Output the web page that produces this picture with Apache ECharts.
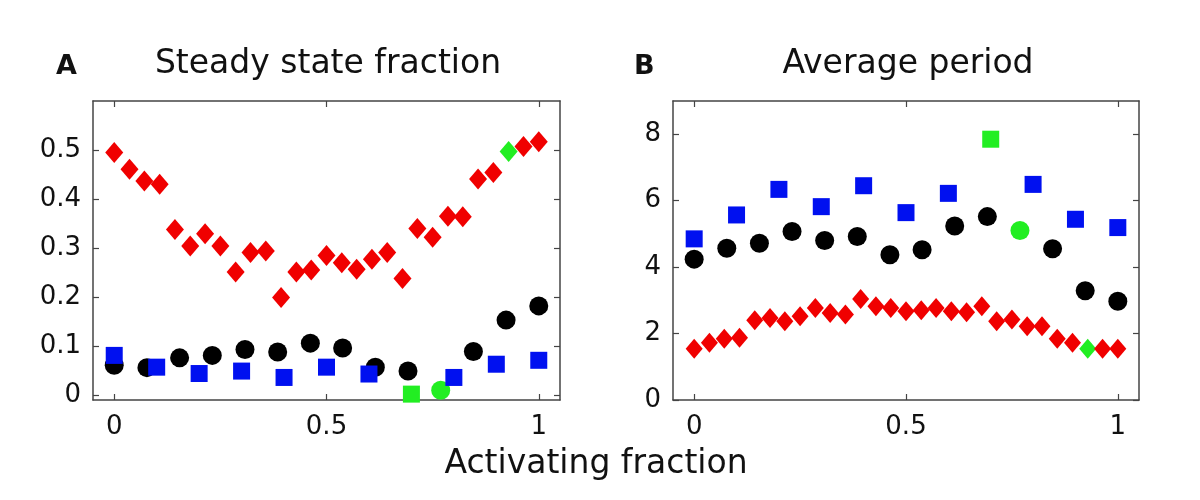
<!DOCTYPE html>
<html>
<head>
<meta charset="utf-8">
<script src="https://cdn.jsdelivr.net/npm/echarts@6/dist/echarts.min.js"></script>
<style>html,body{margin:0;padding:0;background:#fff}#c{width:1200px;height:500px}</style>
</head>
<body>
<div id="c"></div>
<script>
// ---- data ----
const xTicks = [0, 0.5, 1];
const yTicksA = [0, 0.1, 0.2, 0.3, 0.4, 0.5];
const yTicksB = [0, 2, 4, 6, 8];

const xRed = [0, 0.036, 0.071, 0.107, 0.143, 0.179, 0.214, 0.25, 0.286, 0.321, 0.357, 0.393, 0.429, 0.464, 0.5,
              0.536, 0.571, 0.607, 0.643, 0.679, 0.714, 0.75, 0.786, 0.821, 0.857, 0.893, 0.929, 0.964, 1];
const xBlack = [0, 0.077, 0.154, 0.231, 0.308, 0.385, 0.462, 0.538, 0.615, 0.692, 0.769, 0.846, 0.923, 1];
const xBlue = [0, 0.1, 0.2, 0.3, 0.4, 0.5, 0.6, 0.7, 0.8, 0.9, 1];

// Panel A: steady state fraction
const redA = [0.495, 0.461, 0.437, 0.430, 0.338, 0.304, 0.329, 0.304, 0.251, 0.291, 0.294, 0.199, 0.251, 0.255, 0.285,
              0.270, 0.257, 0.277, 0.291, 0.238, 0.340, 0.322, 0.365, 0.364, 0.441, 0.454, 0.497, 0.507, 0.517];
const blackA = [0.061, 0.056, 0.076, 0.081, 0.093, 0.088, 0.106, 0.096, 0.057, 0.049, 0.010, 0.089, 0.153, 0.182];
const blueA = [0.081, 0.057, 0.044, 0.049, 0.036, 0.057, 0.043, 0.002, 0.036, 0.063, 0.071];

// Panel B: average period
const redB = [1.54, 1.72, 1.84, 1.87, 2.40, 2.47, 2.37, 2.52, 2.77, 2.62, 2.57, 3.04, 2.82, 2.77, 2.67,
              2.70, 2.77, 2.67, 2.64, 2.82, 2.37, 2.42, 2.22, 2.22, 1.84, 1.72, 1.54, 1.54, 1.54];
const blackB = [4.24, 4.57, 4.72, 5.07, 4.80, 4.92, 4.37, 4.52, 5.24, 5.52, 5.10, 4.55, 3.29, 2.97];
const blueB = [4.85, 5.57, 6.34, 5.82, 6.45, 5.64, 6.22, 7.85, 6.49, 5.44, 5.19];

// index of the point drawn in green within each series
const greenRed = 26, greenBlack = 10, greenBlue = 7;

// ---- style ----
const FONT = 'DejaVu Sans';
const RED = '#f00000', BLACK = '#000000', BLUE = '#0010f0', GREEN = '#22ee22';
const AXC = '#444';

function pts(xs, ys, gi) {
  return xs.map((x, i) => i === gi ? {value: [x, ys[i]], itemStyle: {color: GREEN}} : [x, ys[i]]);
}

function axesFor(gridIndex, yMin, yMax, yTicks, yFmt) {
  const tickCommon = {show: true, inside: true, length: 6, lineStyle: {color: AXC, width: 1.2}};
  const lineCommon = {show: true, onZero: false, lineStyle: {color: AXC, width: 1.5}};
  const x = [
    {type: 'value', gridIndex, min: -0.05, max: 1.05, position: 'bottom',
     axisLine: lineCommon, splitLine: {show: false},
     axisTick: Object.assign({customValues: xTicks}, tickCommon),
     axisLabel: {customValues: xTicks, fontFamily: FONT, fontSize: 26, color: '#111', margin: 14,
                 formatter: v => String(v)}},
    {type: 'value', gridIndex, min: -0.05, max: 1.05, position: 'top',
     axisLine: lineCommon, splitLine: {show: false},
     axisTick: Object.assign({customValues: xTicks}, tickCommon),
     axisLabel: {show: false}}
  ];
  const y = [
    {type: 'value', gridIndex, min: yMin, max: yMax, position: 'left',
     axisLine: lineCommon, splitLine: {show: false},
     axisTick: Object.assign({customValues: yTicks}, tickCommon),
     axisLabel: {customValues: yTicks, fontFamily: FONT, fontSize: 26, color: '#111', margin: 12,
                 formatter: yFmt}},
    {type: 'value', gridIndex, min: yMin, max: yMax, position: 'right',
     axisLine: lineCommon, splitLine: {show: false},
     axisTick: Object.assign({customValues: yTicks}, tickCommon),
     axisLabel: {show: false}}
  ];
  return {x, y};
}

const aA = axesFor(0, -0.01, 0.6, yTicksA, v => String(Math.round(v * 10) / 10));
const aB = axesFor(1, 0, 9, yTicksB, v => String(v));

function sc(name, xi, yi, data, symbol, size, color, z) {
  return {name, type: 'scatter', xAxisIndex: xi, yAxisIndex: yi, data, symbol, symbolSize: size,
          itemStyle: {color, opacity: 1}, z, silent: true};
}

const option = {
  backgroundColor: '#fff',
  animation: false,
  title: [
    {text: 'A', left: 51, top: 48, textStyle: {fontFamily: FONT, fontSize: 27, fontWeight: 'bold', color: '#111'}},
    {text: 'Steady state fraction', left: 323, top: 43, textAlign: 'center',
     textStyle: {fontFamily: FONT, fontSize: 33, fontWeight: 'normal', color: '#111'}},
    {text: 'B', left: 629, top: 48, textStyle: {fontFamily: FONT, fontSize: 27, fontWeight: 'bold', color: '#111'}},
    {text: 'Average period', left: 903, top: 43, textAlign: 'center',
     textStyle: {fontFamily: FONT, fontSize: 33, fontWeight: 'normal', color: '#111'}},
    {text: 'Activating fraction', left: 591, top: 443, textAlign: 'center',
     textStyle: {fontFamily: FONT, fontSize: 33, fontWeight: 'normal', color: '#111'}}
  ],
  grid: [
    {left: 93, top: 101, width: 467, height: 299},
    {left: 673, top: 101, width: 466, height: 299}
  ],
  xAxis: aA.x.concat(aB.x),
  yAxis: aA.y.concat(aB.y),
  series: [
    sc('redA', 0, 0, pts(xRed, redA, greenRed), 'diamond', [18, 21], RED, 2),
    sc('blackA', 0, 0, pts(xBlack, blackA, greenBlack), 'circle', 19, BLACK, 3),
    sc('blueA', 0, 0, pts(xBlue, blueA, greenBlue), 'rect', 17, BLUE, 4),
    sc('redB', 2, 2, pts(xRed, redB, greenRed), 'diamond', [17, 20], RED, 2),
    sc('blackB', 2, 2, pts(xBlack, blackB, greenBlack), 'circle', 19, BLACK, 3),
    sc('blueB', 2, 2, pts(xBlue, blueB, greenBlue), 'rect', 17, BLUE, 4)
  ]
};

const chart = echarts.init(document.getElementById('c'), null, {renderer: 'canvas'});
chart.setOption(option);
</script>
</body>
</html>
